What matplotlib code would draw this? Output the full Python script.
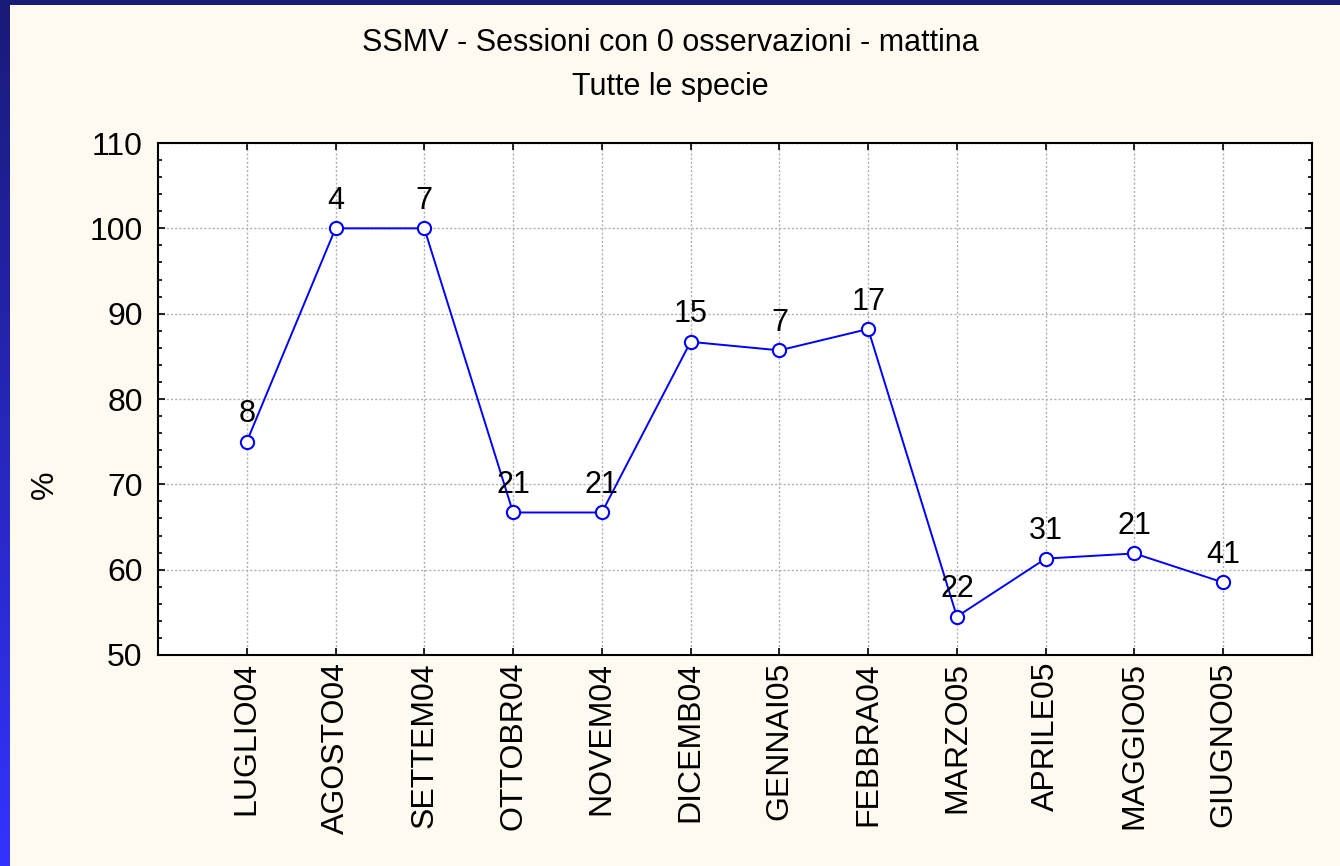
import matplotlib
matplotlib.use("Agg")
import matplotlib.pyplot as plt
import numpy as np
from matplotlib.ticker import MultipleLocator
from matplotlib.colors import LinearSegmentedColormap

categories = ["LUGLIO04", "AGOSTO04", "SETTEM04", "OTTOBR04", "NOVEM04", "DICEMB04",
              "GENNAI05", "FEBBRA04", "MARZO05", "APRILE05", "MAGGIO05", "GIUGNO05"]
percent = [75.0, 100.0, 100.0, 66.7, 66.7, 86.7, 85.7, 88.2, 54.5, 61.3, 61.9, 58.5]
n_sessions = [8, 4, 7, 21, 21, 15, 7, 17, 22, 31, 21, 41]

plt.rcParams['font.family'] = ['Liberation Sans', 'DejaVu Sans']

W, H = 1340, 866
fig = plt.figure(figsize=(W / 100, H / 100), dpi=100)
fig.patch.set_facecolor('#FFFAF0')

# Left gradient strip
strip = fig.add_axes([0, 0, 10 / W, 1])
grad = np.linspace(0, 1, 256).reshape(-1, 1)
cm = LinearSegmentedColormap.from_list('b', ['#1a1a78', '#3333ff'])
strip.imshow(grad, aspect='auto', cmap=cm, extent=[0, 1, 0, 1])
strip.axis('off')
# Top strip
top = fig.add_axes([0, 1 - 5 / H, 1, 5 / H])
top.set_facecolor('#1a1a78')
top.set_xticks([]); top.set_yticks([])
for s in top.spines.values():
    s.set_visible(False)

ax = fig.add_axes([158 / W, 1 - 655 / H, (1312 - 158) / W, (655 - 143) / H])
ax.set_facecolor('white')
x = np.arange(len(categories))
ax.plot(x, percent, color='#0000ff', lw=1.4, marker='o', markersize=9.5,
        markerfacecolor='white', markeredgecolor='#0000ff', markeredgewidth=1.5, zorder=3)
for xi, yi, n in zip(x, percent, n_sessions):
    ax.annotate(str(n), (xi, yi), xytext=(0, 9), textcoords='offset points',
                ha='center', va='bottom', fontsize=22)

ax.set_xlim(-1, 12)
ax.set_ylim(50, 110)
ax.set_xticks(x)
ax.set_xticklabels(categories, rotation=90, fontsize=23)
ax.yaxis.set_major_locator(MultipleLocator(10))
ax.yaxis.set_minor_locator(MultipleLocator(2))
ax.tick_params(axis='both', which='both', direction='in', top=True, right=True)
ax.tick_params(axis='both', which='major', length=5, width=1.2, labelsize=23)
ax.tick_params(axis='y', which='major', pad=11)
ax.tick_params(axis='x', which='major', pad=5)
ax.tick_params(axis='y', which='minor', length=3, width=1.2)
ax.grid(True, which='major', color='#b0b0b0', linestyle=(0, (1.5, 1.5)), lw=1.0)
for s in ax.spines.values():
    s.set_linewidth(1.5)

fig.text(45 / W, 1 - 485 / H, '%', rotation=90, ha='center', va='center', fontsize=23)
fig.text(0.5, 1 - 43 / H, 'SSMV - Sessioni con 0 osservazioni - mattina', ha='center', va='center', fontsize=22)
fig.text(0.5, 1 - 87 / H, 'Tutte le specie', ha='center', va='center', fontsize=22)

fig.savefig('out.png', dpi=100, facecolor=fig.get_facecolor())
